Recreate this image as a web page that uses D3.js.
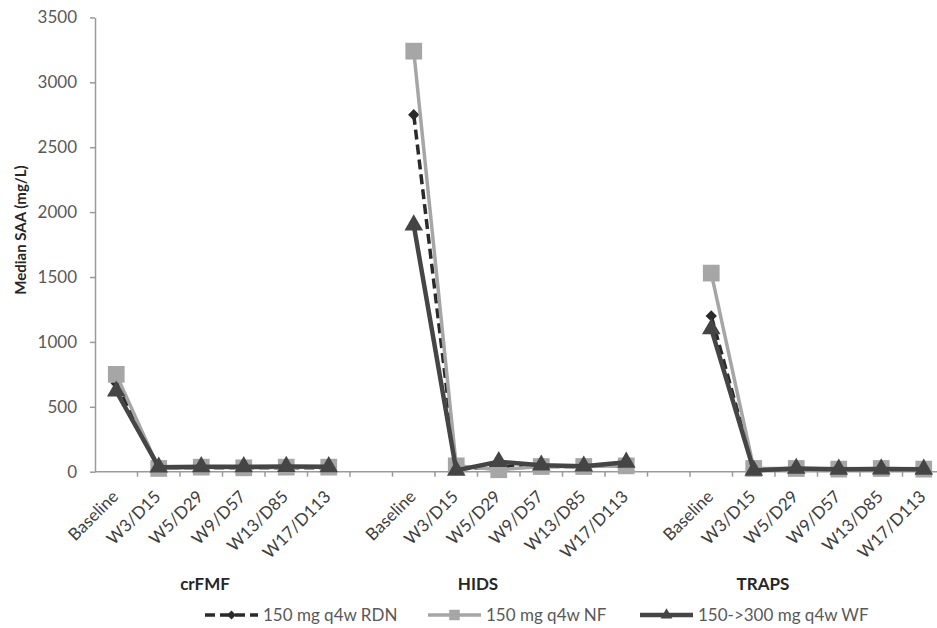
<!DOCTYPE html>
<html>
<head>
<meta charset="utf-8">
<script src="https://cdn.jsdelivr.net/npm/d3@7"></script>
<style>
  body { margin: 0; background: #fff; }
  svg { display: block; font-family: Lato, "Open Sans", sans-serif; }
</style>
</head>
<body>
<svg id="chart"></svg>
<script>
// median SAA by visit, three cohorts side by side on one category axis

let groups = ["crFMF", "HIDS", "TRAPS"];
let visits = ["Baseline", "W3/D15", "W5/D29", "W9/D57", "W13/D85", "W17/D113"];
let yTicks = [0, 500, 1000, 1500, 2000, 2500, 3000, 3500];

// one row per group, one value per visit
let rdnValues = [
    [680, 30, 30, 30, 30, 30],
    [2750, 20, 40, 40, 40, 50],
    [1200, 15, 20, 20, 20, 20]
];
let nfValues = [
    [750, 25, 35, 30, 35, 35],
    [3240, 45, 15, 40, 40, 45],
    [1530, 25, 25, 20, 25, 20]
];
let wfValues = [
    [620, 35, 38, 38, 40, 38],
    [1900, 10, 77, 50, 42, 72],
    [1100, 10, 25, 18, 20, 18]
];

let seriesNames = ["150 mg q4w RDN", "150 mg q4w NF", "150->300 mg q4w WF"];

let w = 937;
let h = 628;

let svg = d3.select("#chart")
    .attr("width", w)
    .attr("height", h);

// category slots: six visits per group with an empty slot between groups
let slots = [];
groups.forEach((g, gi) => {
    if (gi > 0) slots.push("gap" + gi);
    visits.forEach(v => slots.push(g + "|" + v));
});

let left = 95;
let x = d3.scaleBand()
    .domain(slots)
    .range([left, 945])
    .padding(0);

let y = d3.scaleLinear()
    .domain([0, 3500])
    .range([471.7, 17.4]);

let cx = key => x(key) + x.bandwidth() / 2;

// y axis
let yAxis = svg.append("g")
    .attr("transform", "translate(" + left + ",0)")
    .call(d3.axisLeft(y).tickValues(yTicks).tickFormat(d3.format("d"))
        .tickSize(5).tickPadding(13).tickSizeOuter(0));
yAxis.select(".domain").attr("stroke", "#9a9a9a").attr("stroke-width", 1.5);
yAxis.selectAll(".tick line").attr("stroke", "#9a9a9a").attr("stroke-width", 1.5);
yAxis.selectAll(".tick text")
    .attr("fill", "#595959")
    .style("font-size", "17px")
    .style("font-family", "Lato, 'Open Sans', sans-serif");

// x axis line and boundary ticks
let xAxis = svg.append("g").attr("class", "xaxis");
xAxis.append("line")
    .attr("x1", left).attr("x2", w)
    .attr("y1", y(0)).attr("y2", y(0))
    .attr("stroke", "#9a9a9a")
    .attr("stroke-width", 1.5);
xAxis.selectAll("line.tick")
    .data(slots.slice(1))
    .enter()
    .append("line")
    .attr("class", "tick")
    .attr("x1", d => x(d)).attr("x2", d => x(d))
    .attr("y1", y(0)).attr("y2", y(0) + 5)
    .attr("stroke", "#9a9a9a")
    .attr("stroke-width", 1.5);

let labelSlots = slots.filter(s => s.indexOf("|") > 0);
xAxis.selectAll("text")
    .data(labelSlots)
    .enter()
    .append("text")
    .attr("transform", d => "translate(" + (cx(d) + 3) + "," + (y(0) + 26) + ") rotate(-45)")
    .attr("text-anchor", "end")
    .attr("fill", "#404040")
    .style("font-size", "17px")
    .text(d => d.split("|")[1]);

// group names under the axis
let groupX = [205, 478, 763];
svg.append("g")
    .selectAll("text")
    .data(groups)
    .enter()
    .append("text")
    .attr("x", (d, i) => groupX[i])
    .attr("y", 590)
    .attr("text-anchor", "middle")
    .attr("fill", "#262626")
    .style("font-size", "17px")
    .style("font-weight", "bold")
    .text(d => d);

// y axis title
svg.append("text")
    .attr("transform", "translate(26,230) rotate(-90)")
    .attr("text-anchor", "middle")
    .attr("fill", "#262626")
    .style("font-size", "15px")
    .style("font-weight", "bold")
    .text("Median SAA (mg/L)");

// series definitions (styles only)
let series = [
    {name: seriesNames[0], values: rdnValues, color: "#2a2a2a", width: 3.5, dash: "10,5",
     symbol: d3.symbolSquare, size: 64, rot: 45, legendSize: 40},
    {name: seriesNames[1], values: nfValues, color: "#a6a6a6", width: 3.5, dash: null,
     symbol: d3.symbolSquare, size: 280, rot: 0, legendSize: 110},
    {name: seriesNames[2], values: wfValues, color: "#454545", width: 4.5, dash: null,
     symbol: d3.symbolTriangle, size: 150, rot: 0, legendSize: 60}
];

let line = d3.line()
    .x(d => cx(d.key))
    .y(d => y(d.value));

let plot = svg.append("g").attr("class", "plot");

series.forEach(s => {
    let sg = plot.append("g");
    groups.forEach((g, gi) => {
        let pts = visits.map((v, vi) => ({key: g + "|" + v, value: s.values[gi][vi]}));
        sg.append("path")
            .datum(pts)
            .attr("d", line)
            .attr("fill", "none")
            .attr("stroke", s.color)
            .attr("stroke-width", s.width)
            .attr("stroke-dasharray", s.dash)
            .attr("stroke-linejoin", "round");
        sg.selectAll(null)
            .data(pts)
            .enter()
            .append("path")
            .attr("d", d3.symbol().type(s.symbol).size(s.size))
            .attr("transform", d => "translate(" + cx(d.key) + "," + y(d.value) + ") rotate(" + s.rot + ")")
            .attr("fill", s.color);
    });
});

// legend
let legendX = [205, 428, 640];
let legend = svg.append("g").attr("class", "legend");
series.forEach((s, i) => {
    let lg = legend.append("g")
        .attr("transform", "translate(" + legendX[i] + ",615)");
    lg.append("line")
        .attr("x1", 0).attr("x2", 53)
        .attr("stroke", s.color)
        .attr("stroke-width", s.width)
        .attr("stroke-dasharray", s.dash);
    lg.append("path")
        .attr("d", d3.symbol().type(s.symbol).size(s.legendSize))
        .attr("transform", "translate(26.5,0) rotate(" + s.rot + ")")
        .attr("fill", s.color);
    lg.append("text")
        .attr("x", 58)
        .attr("dy", "0.35em")
        .attr("fill", "#595959")
        .style("font-size", "17px")
        .text(s.name);
});
</script>
</body>
</html>
